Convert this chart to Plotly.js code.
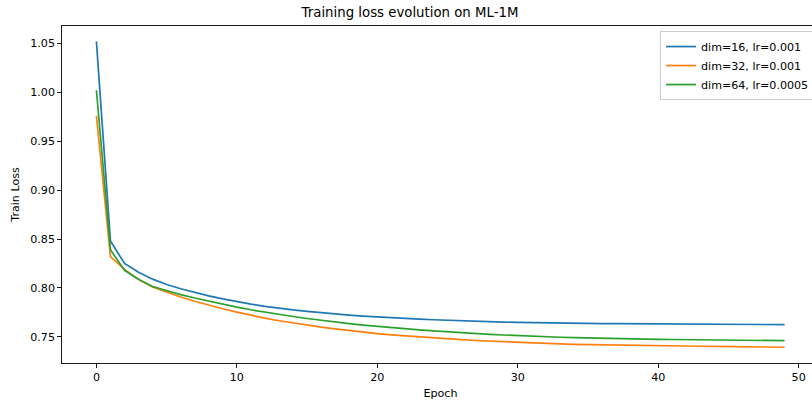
<!DOCTYPE html>
<html>
<head>
<meta charset="utf-8">
<script src="https://cdn.plot.ly/plotly-3.0.1.min.js"></script>
<style>
html, body { margin:0; padding:0; overflow:hidden; background:#fff; }
#chart { width:820px; height:405px; }
</style>
</head>
<body>
<div id="chart"></div>
<script>
const epochs = Array.from({length: 50}, (_, i) => i);

const seriesNames = ["dim=16, lr=0.001", "dim=32, lr=0.001", "dim=64, lr=0.0005"];

const lossDim16 = [1.052, 0.848, 0.825, 0.816, 0.809, 0.8035, 0.7992, 0.7954, 0.7919, 0.7888,
  0.786, 0.7835, 0.7812, 0.7792, 0.7775, 0.776, 0.7746, 0.7733, 0.7722, 0.7712,
  0.7703, 0.7695, 0.7688, 0.7681, 0.7675, 0.7669, 0.7664, 0.7659, 0.7655, 0.7651,
  0.7648, 0.7645, 0.7643, 0.7641, 0.7639, 0.7638, 0.7636, 0.7635, 0.7634, 0.7633,
  0.7632, 0.7631, 0.7631, 0.763, 0.7629, 0.7628, 0.7628, 0.7627, 0.7626, 0.7625];

const lossDim32 = [0.976, 0.832, 0.819, 0.8085, 0.801, 0.7955, 0.7908, 0.7864, 0.7824, 0.7787,
  0.7753, 0.7721, 0.7692, 0.7665, 0.7641, 0.7619, 0.7599, 0.7581, 0.7564, 0.7548,
  0.7534, 0.7521, 0.751, 0.7499, 0.7489, 0.748, 0.7471, 0.7463, 0.7456, 0.7449,
  0.7443, 0.7437, 0.7432, 0.7428, 0.7424, 0.7421, 0.7418, 0.7415, 0.7413, 0.7411,
  0.741, 0.7408, 0.7406, 0.7404, 0.7402, 0.7401, 0.7399, 0.7397, 0.7396, 0.7394];

const lossDim64 = [1.002, 0.839, 0.818, 0.809, 0.8015, 0.797, 0.7932, 0.7897, 0.7864, 0.7833,
  0.7804, 0.7777, 0.7752, 0.7729, 0.7708, 0.7688, 0.7669, 0.7652, 0.7636, 0.7621,
  0.7607, 0.7594, 0.7582, 0.7571, 0.7561, 0.7551, 0.7542, 0.7534, 0.7526, 0.7519,
  0.7512, 0.7506, 0.7501, 0.7496, 0.7492, 0.7488, 0.7485, 0.7482, 0.7479, 0.7477,
  0.7475, 0.7473, 0.7471, 0.7469, 0.7468, 0.7466, 0.7465, 0.7464, 0.7462, 0.7461];

const colors = ["#1f77b4", "#ff7f0e", "#2ca02c"];
const yTicks = [0.75, 0.80, 0.85, 0.90, 0.95, 1.00, 1.05];
const xTicks = [0, 10, 20, 30, 40, 50];

const allY = [lossDim16, lossDim32, lossDim64];
const traces = allY.map((ys, i) => ({
  x: epochs, y: ys, type: "scatter", mode: "lines", name: seriesNames[i],
  line: {color: colors[i], width: 1.7}
}));

const font = {family: "DejaVu Sans, sans-serif", size: 11.1, color: "#000"};

const layout = {
  width: 820, height: 405,
  margin: {l: 62, r: 1, t: 26, b: 42},
  paper_bgcolor: "#fff", plot_bgcolor: "#fff",
  font: font,
  showlegend: true,
  title: {text: "Training loss evolution on ML-1M", font: {family: "DejaVu Sans, sans-serif", size: 13.3, color: "#000"},
          x: 0.5, xanchor: "center", y: 1, yref: "container", yanchor: "top", pad: {t: 8}},
  xaxis: {
    range: [-2.45, 51.45], tickvals: xTicks, ticktext: xTicks.map(String),
    showgrid: false, zeroline: false, showline: true, mirror: true, linecolor: "#000", linewidth: 0.9,
    ticks: "outside", ticklen: 3.9, tickwidth: 0.9, tickcolor: "#000",
    title: {text: "Epoch", font: font, standoff: 6}
  },
  yaxis: {
    range: [0.7233, 1.0677], tickvals: yTicks, ticktext: yTicks.map(v => v.toFixed(2)),
    showgrid: false, zeroline: false, showline: true, mirror: true, linecolor: "#000", linewidth: 0.9,
    ticks: "outside", ticklen: 3.9, tickwidth: 0.9, tickcolor: "#000",
    title: {text: "Train Loss", font: font, standoff: 8}
  },
  legend: {
    x: 0.79, xanchor: "left", y: 0.985, yanchor: "top",
    bgcolor: "rgba(255,255,255,0.8)", bordercolor: "#cccccc", borderwidth: 1,
    font: font, tracegroupgap: 0
  }
};

Plotly.newPlot("chart", traces, layout, {displayModeBar: false, staticPlot: true});
</script>
</body>
</html>
